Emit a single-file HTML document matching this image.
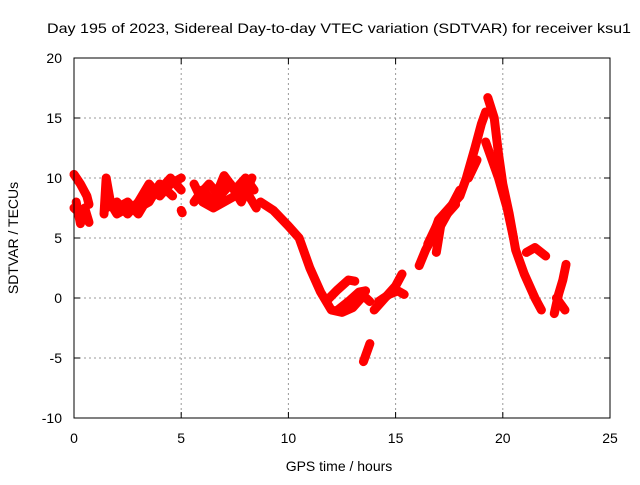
<!DOCTYPE html>
<html><head><meta charset="utf-8"><style>
body{margin:0;background:#fff}
svg text{font-family:"Liberation Sans",sans-serif;font-size:14px;fill:#000}
</style></head><body>
<svg id="chart" width="640" height="480">
<text x="47" y="33" textLength="584" lengthAdjust="spacingAndGlyphs">Day 195 of 2023, Sidereal Day-to-day VTEC variation (SDTVAR) for receiver ksu1</text>
<g id="grid"></g>
<g id="ticks"></g>
<g id="series"></g>
<rect x="74" y="58" width="536" height="360" fill="none" stroke="#000"/>
<text x="339" y="471" text-anchor="middle">GPS time / hours</text>
<text transform="translate(18,238) rotate(-90)" text-anchor="middle">SDTVAR / TECUs</text>
</svg>
<script>
const xTicks=[0,5,10,15,20,25];
const yTicks=[-10,-5,0,5,10,15,20];
const trackA1=[[0,10.3],[0.3,9.5],[0.6,8.5],[0.7,7.8]];
const trackA2=[[0,7.5],[0.3,7],[0.6,6.5]];
const trackA3=[[0.1,8],[0.3,6.2],[0.5,7.5],[0.7,6.3]];
const trackB1=[[1.4,7],[1.5,10],[1.7,8],[2.0,7.5],[2.5,8],[3.0,7],[3.5,8.5],[4.0,9],[4.5,10],[5,9]];
const trackB2=[[1.5,7.5],[2,8],[2.5,7],[3,8],[3.5,9.5],[4,8.5],[4.5,9.5],[5,10]];
const trackB4=[[1.5,8.5],[2,7],[2.5,7.5],[3,7.5],[3.5,8],[4,9.5],[4.6,8.5]];
const trackB3=[[5.0,7.3],[5.05,7.1]];
const trackC1=[[5.6,8],[6,9],[6.5,8],[7,10.2],[7.5,9],[8,10],[8.4,9]];
const trackC2=[[5.6,9.5],[6,8],[6.5,7.5],[7,8],[7.5,8.5],[8,9],[8.5,7.5]];
const trackC3=[[5.8,8.5],[6.3,9.5],[6.8,8.5],[7.3,9.5],[7.8,8],[8.3,10]];
const trackD1=[[8.7,8],[9.3,7.3],[10,6],[10.5,5],[11,2.5],[11.5,0.5],[12,-1],[12.5,-1.2],[13,-0.8],[13.5,0.2],[13.8,-0.3]];
const trackD2=[[11.8,-0.2],[12.3,0.7],[12.8,1.5],[13.1,1.4]];
const trackD3=[[12.3,-1],[12.8,-0.3],[13.3,0.5],[13.6,0.6]];
const trackD4=[[14,-1],[14.5,0],[15,1],[15.3,2]];
const trackD5=[[14.2,-0.3],[14.7,0.3],[15.1,0.6],[15.4,0.3]];
const trackD6=[[13.5,-5.3],[13.8,-3.8]];
const trackE1=[[16.1,2.7],[16.4,4],[16.7,5],[17,6.5],[17.5,7.5],[18,8.5],[18.3,10],[18.7,12.5],[19,14.5],[19.2,15.5]];
const trackE2=[[16.9,3.8],[17.1,6],[17.5,7.3],[18,9]];
const trackE4=[[16.5,4.5],[16.9,6],[17.3,6.8],[17.8,7.8]];
const trackE3=[[18.4,10],[18.8,11.5]];
const trackF1=[[19.3,16.7],[19.6,15],[19.8,12],[20,9.5],[20.3,7],[20.6,4],[21,2],[21.5,0],[21.8,-1]];
const trackF2=[[19.2,13],[19.5,11.5],[19.8,10],[20.2,7.5],[20.5,5]];
const trackF3=[[21.1,3.8],[21.5,4.2],[22,3.5]];
const trackF4=[[22.4,-1.3],[22.6,0.3],[22.8,1.5],[22.95,2.8]];
const trackF5=[[22.5,0],[22.7,-0.5],[22.9,-1]];
const tracks=[trackA1,trackA2,trackA3,trackB1,trackB2,trackB4,trackB3,trackC1,trackC2,trackC3,trackD1,trackD2,trackD3,trackD4,trackD5,trackD6,trackE1,trackE2,trackE4,trackE3,trackF1,trackF2,trackF3,trackF4,trackF5];
const NS="http://www.w3.org/2000/svg";
const xS=v=>74+v*536/25;
const yS=v=>298-v*12;
const grid=document.getElementById('grid'),ticks=document.getElementById('ticks'),series=document.getElementById('series');
function mk(t,a,p){const e=document.createElementNS(NS,t);for(const k in a)e.setAttribute(k,a[k]);p.appendChild(e);return e;}
xTicks.forEach(v=>{
 if(v>0&&v<25){const g=mk('line',{x1:xS(v),x2:xS(v),y1:58,y2:418,stroke:'#999','stroke-dasharray':'2,3'},grid);
 
 }
 const t=mk('text',{x:xS(v),y:443,'text-anchor':'middle'},ticks);t.textContent=v;
 
 
 mk('line',{x1:xS(v),x2:xS(v),y1:418,y2:412,stroke:'#000'},ticks);
 mk('line',{x1:xS(v),x2:xS(v),y1:58,y2:64,stroke:'#000'},ticks);
});
yTicks.forEach(v=>{
 if(v>-10&&v<20){const g=mk('line',{x1:74,x2:610,y1:yS(v),y2:yS(v),stroke:'#999','stroke-dasharray':'2,3'},grid);
 
 }
 const t=mk('text',{x:62,y:yS(v)+5,'text-anchor':'end'},ticks);t.textContent=v;
 
 
 mk('line',{x1:74,x2:80,y1:yS(v),y2:yS(v),stroke:'#000'},ticks);
 mk('line',{x1:610,x2:604,y1:yS(v),y2:yS(v),stroke:'#000'},ticks);
});
tracks.forEach(tr=>{
 const p=mk('polyline',{points:tr.map(d=>xS(d[0])+','+yS(d[1])).join(' '),fill:'none',stroke:'#f00','stroke-width':9,'stroke-linejoin':'round','stroke-linecap':'round'},series);
 
 
});
mk('line',{x1:74,x2:74,y1:58,y2:418,stroke:'#000'},ticks);
</script>
</body></html>
